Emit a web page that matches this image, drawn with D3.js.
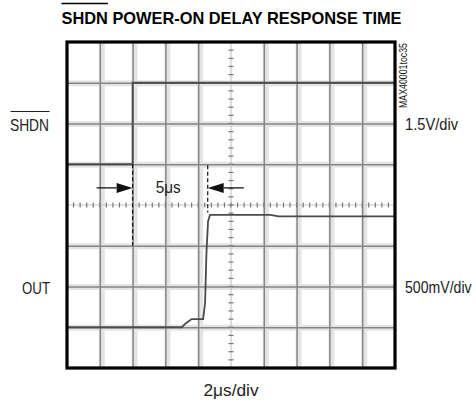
<!DOCTYPE html>
<html>
<head>
<meta charset="utf-8">
<script src="https://cdn.jsdelivr.net/npm/d3@7"></script>
<style>
  body { margin: 0; background: #fff; }
  svg { display: block; }
  text { font-family: "Liberation Sans Narrow", "Liberation Sans", Arial, sans-serif; fill: #222; }
</style>
</head>
<body>
<div id="chart"></div>
<script>
(function(d3) {
  'use strict';

  // scope settings
  var timePerDiv = 2;      // us
  var shdnPerDiv = 1.5;    // V
  var outPerDiv = 0.5;     // V

  // SHDN trace (us, V)
  var shdnTime = [0, 4, 4, 20];
  var shdnVolts = [0, 0, 3, 3];

  // OUT trace (us, V)
  var outTime = [0, 7.0, 7.25, 7.6, 8.3, 8.42, 8.5, 8.6, 8.72, 12.4, 12.9, 20];
  var outVolts = [0, 0, 0.05, 0.1, 0.1, 0.3, 0.9, 1.3, 1.38, 1.38, 1.36, 1.36];

  // delay markers (us)
  var markerTime = [4, 8.58];
  var delayLabel = '5\u03bcs';

  var width = 476;
  var height = 404;
  var left = 67, top = 42, plotW = 328, plotH = 326;

  var svg = d3.select('#chart')
    .append('svg')
    .attr('width', width)
    .attr('height', height);

  var x = d3.scaleLinear().domain([0, 10 * timePerDiv]).range([left, left + plotW]);
  var yDiv = d3.scaleLinear().domain([-4, 4]).range([top + plotH, top]);
  var yShdn = d3.scaleLinear().domain([-5 * shdnPerDiv, 3 * shdnPerDiv]).range([top + plotH, top]);
  var yOut = d3.scaleLinear().domain([-1 * outPerDiv, 7 * outPerDiv]).range([top + plotH, top]);

  var gridX = d3.range(1, 10).filter(function(i) { return i !== 5; }).map(function(i) { return i * timePerDiv; });
  var gridY = [-3, -2, -1, 1, 2, 3];

  // grid, drawn with axes: pale halo then darker line
  function drawGrid(halo) {
    var gx = svg.append('g')
      .attr('transform', 'translate(0,' + (top + plotH) + ')')
      .call(d3.axisBottom(x).tickValues(gridX).tickSize(-plotH).tickFormat(''));
    var gy = svg.append('g')
      .attr('transform', 'translate(' + left + ',0)')
      .call(d3.axisLeft(yDiv).tickValues(gridY).tickSize(-plotW).tickFormat(''));
    [gx, gy].forEach(function(g) {
      g.select('.domain').remove();
      g.selectAll('line')
        .attr('stroke', halo ? '#e4e4e4' : '#858585')
        .attr('stroke-width', halo ? 6 : 1.5)
        .attr('transform', halo ? 'translate(1.5,0)' : null);
    });
  }
  drawGrid(true);
  drawGrid(false);

  // centre cross with minor ticks
  svg.append('line')
    .attr('x1', x(5 * timePerDiv)).attr('x2', x(5 * timePerDiv))
    .attr('y1', top).attr('y2', top + plotH)
    .attr('stroke', '#c8c8c8').attr('stroke-width', 1.2);
  svg.append('line')
    .attr('x1', left).attr('x2', left + plotW)
    .attr('y1', yDiv(0)).attr('y2', yDiv(0))
    .attr('stroke', '#c8c8c8').attr('stroke-width', 1.2);

  svg.append('g').selectAll('line')
    .data(d3.range(-20, 21))
    .enter().append('line')
    .attr('x1', x(5 * timePerDiv) - 2.5).attr('x2', x(5 * timePerDiv) + 2.5)
    .attr('y1', function(d) { return yDiv(d / 5); })
    .attr('y2', function(d) { return yDiv(d / 5); })
    .attr('stroke', '#777').attr('stroke-width', 1.2);

  svg.append('g').selectAll('line')
    .data(d3.range(0, 51))
    .enter().append('line')
    .attr('x1', function(d) { return x(d * timePerDiv / 5); })
    .attr('x2', function(d) { return x(d * timePerDiv / 5); })
    .attr('y1', yDiv(0) - 2.5).attr('y2', yDiv(0) + 2.5)
    .attr('stroke', '#777').attr('stroke-width', 1.2);

  // traces
  var lineShdn = d3.line()
    .x(function(d, i) { return x(shdnTime[i]); })
    .y(function(d) { return yShdn(d); });
  var lineOut = d3.line()
    .x(function(d, i) { return x(outTime[i]); })
    .y(function(d) { return yOut(d); });

  svg.append('path')
    .attr('d', lineShdn(shdnVolts))
    .attr('fill', 'none').attr('stroke', '#4a4a4a').attr('stroke-width', 1.8);
  svg.append('path')
    .attr('d', lineOut(outVolts))
    .attr('fill', 'none').attr('stroke', '#4a4a4a').attr('stroke-width', 1.8);

  // delay markers
  var markerSpan = [[yShdn(0), yDiv(-1)], [yShdn(0) + 1, yOut(outVolts[outVolts.length - 1]) - 4]];
  svg.append('g').selectAll('line')
    .data(markerTime)
    .enter().append('line')
    .attr('x1', function(d) { return x(d); })
    .attr('x2', function(d) { return x(d); })
    .attr('y1', function(d, i) { return markerSpan[i][0]; })
    .attr('y2', function(d, i) { return markerSpan[i][1]; })
    .attr('stroke', '#111').attr('stroke-width', 1.2)
    .attr('stroke-dasharray', '4,2.5');

  var arrowY = yDiv(0.42);
  var arrowLen = 36, headLen = 16, headHalf = 5;
  [[markerTime[0], -1], [markerTime[1], 1]].forEach(function(a) {
    var tip = x(a[0]), dir = a[1];
    svg.append('line')
      .attr('x1', tip + dir * arrowLen).attr('x2', tip + dir * headLen)
      .attr('y1', arrowY).attr('y2', arrowY)
      .attr('stroke', '#111').attr('stroke-width', 1.3);
    svg.append('path')
      .attr('d', 'M' + tip + ',' + arrowY +
        'L' + (tip + dir * headLen) + ',' + (arrowY - headHalf) +
        'L' + (tip + dir * headLen) + ',' + (arrowY + headHalf) + 'Z')
      .attr('fill', '#111');
  });

  svg.append('text')
    .attr('x', (x(markerTime[0]) + x(markerTime[1])) / 2 - 2)
    .attr('y', arrowY + 5)
    .attr('text-anchor', 'middle')
    .attr('font-size', 16)
    .attr('textLength', 25).attr('lengthAdjust', 'spacingAndGlyphs')
    .text(delayLabel);

  // frame
  svg.append('rect')
    .attr('x', left).attr('y', top)
    .attr('width', plotW).attr('height', plotH)
    .attr('fill', 'none').attr('stroke', '#000').attr('stroke-width', 3.2);

  // title
  var title = svg.append('text')
    .attr('x', 231.5).attr('y', 24)
    .attr('text-anchor', 'middle')
    .attr('font-size', 17).attr('font-weight', 'bold')
    .attr('textLength', 340).attr('lengthAdjust', 'spacingAndGlyphs')
    .style('fill', '#000')
    .text('SHDN POWER-ON DELAY RESPONSE TIME');
  var tw = title.node().getSubStringLength(0, 4);
  svg.append('line')
    .attr('x1', 231.5 - 170).attr('x2', 231.5 - 170 + tw)
    .attr('y1', 3.5).attr('y2', 3.5)
    .attr('stroke', '#000').attr('stroke-width', 1.5);

  // channel labels
  svg.append('text')
    .attr('x', 10).attr('y', 131)
    .attr('font-size', 17)
    .attr('textLength', 39).attr('lengthAdjust', 'spacingAndGlyphs')
    .text('SHDN');
  svg.append('line')
    .attr('x1', 10.5).attr('x2', 49.5)
    .attr('y1', 111.5).attr('y2', 111.5)
    .attr('stroke', '#222').attr('stroke-width', 1.2);

  svg.append('text')
    .attr('x', 22).attr('y', 294)
    .attr('font-size', 17)
    .attr('textLength', 28).attr('lengthAdjust', 'spacingAndGlyphs')
    .text('OUT');

  svg.append('text')
    .attr('x', 405).attr('y', 129.5)
    .attr('font-size', 17)
    .attr('textLength', 53).attr('lengthAdjust', 'spacingAndGlyphs')
    .text('1.5V/div');

  svg.append('text')
    .attr('transform', 'translate(405,292.5) scale(0.83,1)')
    .attr('font-size', 17)
    .text('500mV/div');

  svg.append('text')
    .attr('x', 231).attr('y', 396)
    .attr('text-anchor', 'middle')
    .attr('font-size', 16)
    .attr('textLength', 55).attr('lengthAdjust', 'spacingAndGlyphs')
    .text('2\u03bcs/div');

  svg.append('text')
    .attr('transform', 'translate(407,108) rotate(-90)')
    .attr('font-size', 10)
    .attr('textLength', 65).attr('lengthAdjust', 'spacingAndGlyphs')
    .text('MAX40001toc35');
})(window.d3);
</script>
</body>
</html>
